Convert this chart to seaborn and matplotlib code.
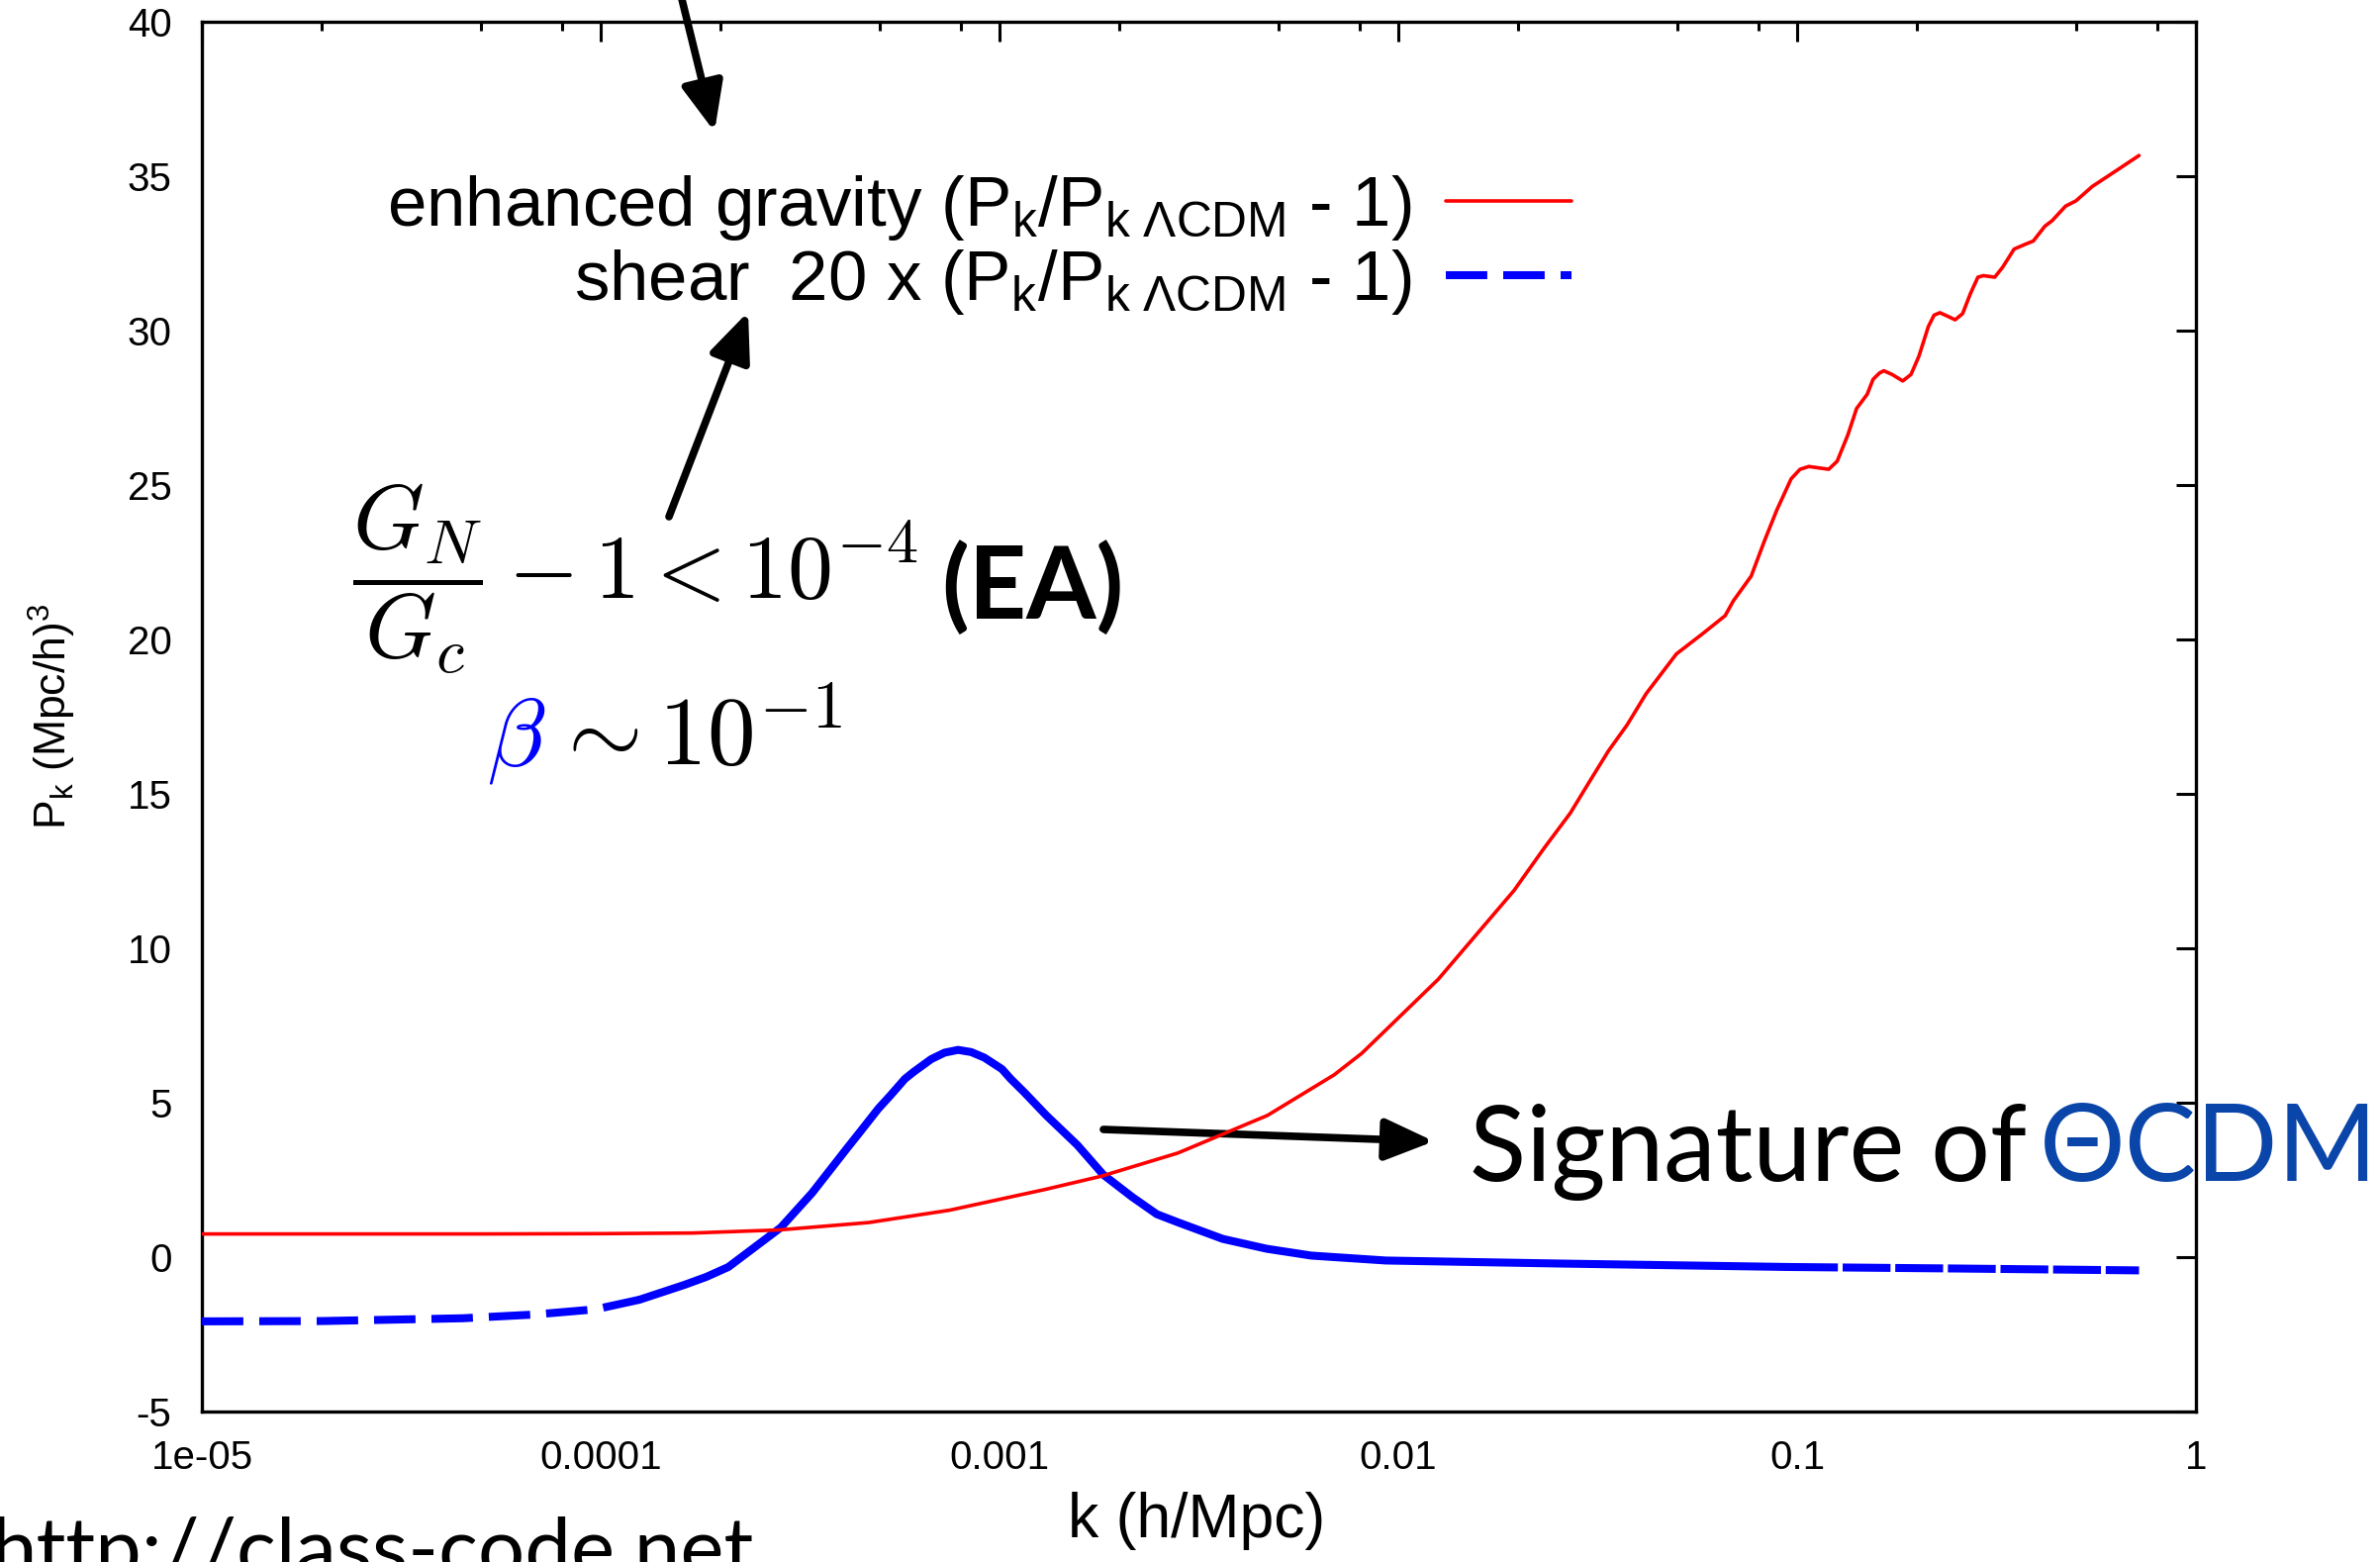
import numpy as np
import pandas as pd
import matplotlib
matplotlib.use("Agg")
import matplotlib.pyplot as plt
import seaborn as sns
from matplotlib.ticker import FixedLocator, NullFormatter

# ---------------- data ----------------
k_red = [1e-5, 2e-5, 5e-5, 1e-4, 1.7e-4, 2.8e-4, 4.7e-4, 7.5e-4, 1.3e-3, 1.8e-3,
         2.8e-3, 4.7e-3, 6.9e-3, 8.1e-3, 0.0126, 0.0195, 0.0232, 0.027, 0.0301,
         0.0336, 0.0375, 0.0418, 0.0498, 0.058, 0.066, 0.0692, 0.0767, 0.0828,
         0.089, 0.0966, 0.1017, 0.107, 0.114, 0.120, 0.126, 0.134, 0.141, 0.1499,
         0.155, 0.161, 0.165, 0.173, 0.184, 0.193, 0.202, 0.2133, 0.2205, 0.228,
         0.238, 0.249, 0.260, 0.272, 0.284, 0.293, 0.313, 0.3275, 0.35, 0.374,
         0.391, 0.418, 0.436, 0.471, 0.50, 0.55, 0.608, 0.72]
pk_red = [0.75, 0.75, 0.75, 0.76, 0.78, 0.88, 1.12, 1.52, 2.19, 2.62,
          3.37, 4.59, 5.9, 6.6, 9.0, 11.87, 13.24, 14.38, 15.38,
          16.38, 17.24, 18.24, 19.53, 20.19, 20.77, 21.25, 22.05, 23.19,
          24.2, 25.2, 25.51, 25.6, 25.55, 25.51, 25.77, 26.62, 27.48, 27.94,
          28.42, 28.63, 28.7, 28.58, 28.37, 28.58, 29.17, 30.13, 30.5, 30.58,
          30.47, 30.35, 30.55, 31.2, 31.73, 31.78, 31.73, 32.05, 32.64, 32.8,
          32.9, 33.38, 33.56, 34.03, 34.2, 34.67, 35.04, 35.67]

k_blue = [1e-5, 2e-5, 4.5e-5, 6.8e-5, 9.7e-5, 1.25e-4, 1.62e-4, 1.84e-4, 2.09e-4,
          2.83e-4, 3.39e-4, 4.15e-4, 4.48e-4, 4.97e-4, 5.33e-4, 5.79e-4, 6.08e-4,
          6.74e-4, 7.28e-4, 7.87e-4, 8.49e-4, 9.16e-4, 1.014e-3, 1.067e-3,
          1.153e-3, 1.31e-3, 1.567e-3, 1.82e-3, 2.15e-3, 2.48e-3, 2.81e-3,
          3.63e-3, 4.68e-3, 6.05e-3, 9.3e-3, 0.0259, 0.096, 0.257, 0.72]
pk_blue = [-2.08, -2.07, -1.98, -1.86, -1.69, -1.38, -0.9, -0.64, -0.32,
           0.96, 2.08, 3.53, 4.07, 4.81, 5.24, 5.77, 5.99,
           6.41, 6.62, 6.71, 6.64, 6.46, 6.09, 5.77,
           5.34, 4.59, 3.63, 2.67, 1.95, 1.39, 1.12,
           0.59, 0.27, 0.05, -0.11, -0.21, -0.32, -0.37, -0.43]

x_ticks = [1e-5, 1e-4, 1e-3, 1e-2, 1e-1, 1]
x_tick_labels = ["1e-05", "0.0001", "0.001", "0.01", "0.1", "1"]
y_ticks = [-5, 0, 5, 10, 15, 20, 25, 30, 35, 40]
legend_labels = [
    r"enhanced gravity (P$_{\mathrm{k}}$/P$_{\mathrm{k\ \Lambda CDM}}$ - 1)",
    r"shear  20 x (P$_{\mathrm{k}}$/P$_{\mathrm{k\ \Lambda CDM}}$ - 1)",
]

# ---------------- style ----------------
sns.set_style("white")
plt.rcParams["font.family"] = ["Liberation Sans", "DejaVu Sans"]
plt.rcParams["mathtext.fontset"] = "custom"
plt.rcParams["mathtext.rm"] = "Liberation Sans"
plt.rcParams["mathtext.it"] = "Liberation Sans:italic"
plt.rcParams["mathtext.bf"] = "Liberation Sans:bold"
for key in ("text.color", "axes.labelcolor", "xtick.color", "ytick.color", "axes.edgecolor"):
    plt.rcParams[key] = "black"

W, H = 2405, 1578
fig = plt.figure(figsize=(W / 100, H / 100), dpi=100)
ax = fig.add_axes([204 / W, 1 - 1426 / H, (2219 - 204) / W, (1426 - 22) / H])
ax.set_xscale("log")

red_df = pd.DataFrame({"k": k_red, "pk": pk_red})
blue_df = pd.DataFrame({"k": k_blue, "pk": pk_blue})

sns.lineplot(data=red_df, x="k", y="pk", ax=ax, color="#ff0000", lw=2.6,
             estimator=None, sort=False, legend=False, zorder=5)
red_line = ax.lines[-1]

lo = blue_df[blue_df.k <= 1.25e-4]
mid = blue_df[(blue_df.k >= 1.25e-4) & (blue_df.k <= 0.096)]
hi = blue_df[blue_df.k >= 0.096]

sns.lineplot(data=lo, x="k", y="pk", ax=ax, color="#0000ff", lw=5.8,
             estimator=None, sort=False, legend=False, zorder=4)
blue_line = ax.lines[-1]
blue_line.set_linestyle((0, (5.2, 2.0)))
blue_line.set_dash_capstyle("butt")
sns.lineplot(data=mid, x="k", y="pk", ax=ax, color="#0000ff", lw=5.8,
             estimator=None, sort=False, legend=False, zorder=4)
ax.lines[-1].set_solid_joinstyle("round")
sns.lineplot(data=hi, x="k", y="pk", ax=ax, color="#0000ff", lw=5.8,
             estimator=None, sort=False, legend=False, zorder=4)
ax.lines[-1].set_linestyle((0, (6.0, 0.6)))

ax.set_xlim(1e-5, 1)
ax.set_ylim(-5, 40)
ax.set_xticks(x_ticks)
ax.set_xticklabels(x_tick_labels)
ax.xaxis.set_minor_locator(FixedLocator([m * 10.0 ** e for e in range(-5, 0) for m in (2, 5, 8)]))
ax.xaxis.set_minor_formatter(NullFormatter())
ax.set_yticks(y_ticks)
ax.set_yticklabels([str(v) for v in y_ticks])
ax.tick_params(which="both", direction="in", top=True, right=True, width=2.2,
               color="black", labelcolor="black", labelsize=29)
ax.tick_params(which="major", length=14.5)
ax.tick_params(which="minor", length=6.5)
ax.tick_params(axis="y", pad=22)
ax.tick_params(axis="x", pad=20)
for s in ax.spines.values():
    s.set_linewidth(2.4)
    s.set_color("black")
ax.grid(False)

ax.set_xlabel("k (h/Mpc)", fontsize=45, color="black")
ax.xaxis.set_label_coords(0.4988, -0.058)
ax.set_ylabel(r"P$_{\mathrm{k}}$ (Mpc/h)$^3$", fontsize=32, color="black")
ax.yaxis.set_label_coords(-0.062, 0.5)

leg = ax.legend([red_line, blue_line], legend_labels, loc="upper right",
                bbox_to_anchor=(1588 / W, 1 - 175 / H), bbox_transform=fig.transFigure,
                markerfirst=False, frameon=False, fontsize=51, handlelength=1.8,
                handletextpad=0.48, labelspacing=0.07, borderpad=0, borderaxespad=0)
for t in leg.get_texts():
    t.set_color("black")

# ---------------- annotations ----------------
def fp(x, y):
    return (x, H - y)

arrow_kw = dict(arrowstyle="-|>,head_length=0.75,head_width=0.32", lw=5.5, color="black",
                mutation_scale=40, shrinkA=0, shrinkB=0)
ax.annotate("", xy=fp(1449, 1153), xytext=fp(1115, 1141), xycoords="figure pixels",
            textcoords="figure pixels", arrowprops=arrow_kw, annotation_clip=False)
ax.annotate("", xy=fp(756, 315), xytext=fp(676, 522), xycoords="figure pixels",
            textcoords="figure pixels", arrowprops=arrow_kw, annotation_clip=False)
ax.annotate("", xy=fp(722, 133), xytext=fp(688, -5), xycoords="figure pixels",
            textcoords="figure pixels", arrowprops=arrow_kw, annotation_clip=False)

fig.text(356 / W, 1 - 605 / H, r"$\dfrac{G_N}{G_c} - 1 < 10^{-4}$", fontsize=66,
         math_fontfamily="cm", ha="left", va="baseline", color="black")
fig.text(951 / W, 1 - 625 / H, "(EA)", fontsize=73, fontweight="bold", color="black",
         family=["Lato", "Open Sans", "DejaVu Sans"], ha="left", va="baseline")
fig.text(492 / W, 1 - 773 / H, r"$\beta$", fontsize=70, math_fontfamily="cm",
         color="#0000ff", ha="left", va="baseline")
fig.text(556 / W, 1 - 773 / H, r"$\sim 10^{-1}$", fontsize=70, math_fontfamily="cm",
         color="black", ha="left", va="baseline")

fig.text(1485 / W, 1 - 1193 / H, "Signature of", fontsize=76, color="black",
         family=["Lato", "Open Sans", "DejaVu Sans"], ha="left", va="baseline")
fig.text(2061 / W, 1 - 1193 / H, "ΘCDM", fontsize=78, color="#0a45aa",
         family=["Lato", "Open Sans", "DejaVu Sans"], ha="left", va="baseline")
fig.text(-10 / W, 1 - 1593 / H, "http://class-code.net", fontsize=60, color="black",
         family=["Lato", "Open Sans", "DejaVu Sans"], ha="left", va="baseline")

fig.savefig("out.png", dpi=100)
